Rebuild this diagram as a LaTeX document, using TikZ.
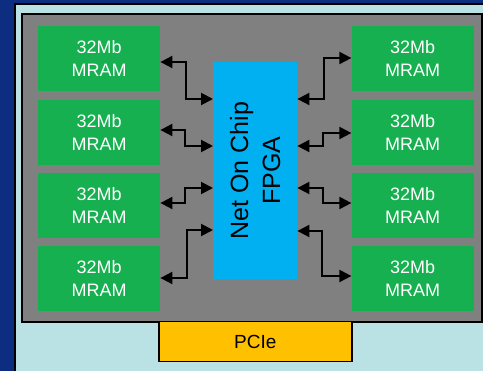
\documentclass[tikz,border=0pt]{standalone}
\usepackage{fontspec}
\setmainfont{Liberation Sans}
\usetikzlibrary{arrows.meta,positioning}
\definecolor{navybg}{HTML}{0D2E80}
\definecolor{panel}{HTML}{BAE1E3}
\definecolor{chipgray}{HTML}{808080}
\definecolor{mramgreen}{HTML}{17B050}
\definecolor{fpgablue}{HTML}{00B0F0}
\definecolor{pcieorange}{HTML}{FFC000}

\begin{document}
\begin{tikzpicture}[x=1pt,y=-1pt,>={Triangle[length=12pt,width=12pt]},node distance=8pt]
  \tikzstyle{mram}=[fill=mramgreen,text=white,minimum width=122pt,minimum height=65pt,inner sep=0pt,align=center,font=\fontsize{18}{23}\selectfont]
  \tikzstyle{link}=[line width=2pt,<->]
  \useasboundingbox (0,0) rectangle (483,371);
  \fill[navybg] (0,0) rectangle (483,371);
  \fill[panel] (15,4) rectangle (483,371);
  \draw[line width=1.2pt] (15,371) -- (15,4) -- (483,4);
  \node[draw,line width=2pt,fill=chipgray,minimum width=460pt,minimum height=308pt,inner sep=0pt,anchor=north west] (chip) at (21,13) {};
  \node[draw,line width=1.5pt,fill=pcieorange,minimum width=193pt,minimum height=40pt,anchor=north west,font=\fontsize{19}{23}\selectfont] (pcie) at (158,321) {PCIe};
  % memories, left column
  \node[mram,anchor=north west] (l1) at (38,26) {32Mb\\MRAM};
  \node[mram,below=of l1] (l2) {32Mb\\MRAM};
  \node[mram,below=of l2] (l3) {32Mb\\MRAM};
  \node[mram,below=of l3] (l4) {32Mb\\MRAM};
  % memories, right column
  \node[mram,right=191pt of l1] (r1) {32Mb\\MRAM};
  \node[mram,below=of r1] (r2) {32Mb\\MRAM};
  \node[mram,below=of r2] (r3) {32Mb\\MRAM};
  \node[mram,below=of r3] (r4) {32Mb\\MRAM};
  % network on chip
  \node[fill=fpgablue,minimum width=84pt,minimum height=217pt,inner sep=0pt,anchor=north west] (fpga) at (213,62) {};
  \node[rotate=90,align=center,font=\fontsize{25}{32}\selectfont] (fpgatxt) at (fpga) {Net On Chip\\FPGA};
  \draw[link] (l1.east |- 0,62) -- ++(26,0) |- (fpga.west |- 0,99);
  \draw[link] (l2.east |- 0,130) -- ++(25,0) |- (fpga.west |- 0,146);
  \draw[link] (l3.east |- 0,203) -- ++(25,0) |- (fpga.west |- 0,188);
  \draw[link] (l4.east |- 0,278) -- ++(27,0) |- (fpga.west |- 0,230);
  \draw[link] (fpga.east |- 0,99) -- ++(27,0) |- (r1.west |- 0,58);
  \draw[link] (fpga.east |- 0,146) -- ++(26,0) |- (r2.west |- 0,133);
  \draw[link] (fpga.east |- 0,188) -- ++(26,0) |- (r3.west |- 0,203);
  \draw[link] (fpga.east |- 0,231) -- ++(25,0) |- (r4.west |- 0,276);
\end{tikzpicture}
\end{document}
